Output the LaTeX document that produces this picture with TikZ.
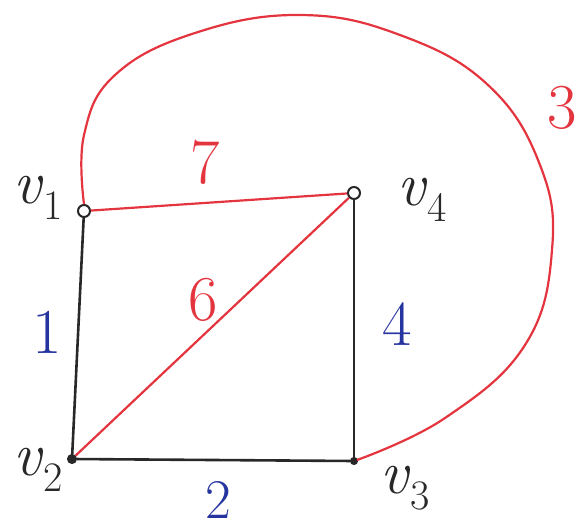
\documentclass[tikz,border=0pt]{standalone}
\usepackage{fontspec}
\usetikzlibrary{calc}
\definecolor{penred}{RGB}{228,52,62}
\definecolor{penblue}{RGB}{38,52,160}
\definecolor{penblack}{RGB}{40,40,40}
\newcommand{\vsub}[1]{\textit{v}\raisebox{-0.25em}{\fontsize{42}{42}\selectfont #1}}
\begin{document}
\begin{tikzpicture}[x=1pt,y=-1pt,
  vert/.style={circle,draw=penblack,line width=2pt,minimum size=12pt,inner sep=0pt},
  blk/.style={draw=penblack,line width=2.6pt},
  rd/.style={draw=penred,line width=2.2pt},
  vlab/.style={text=penblack,font=\fontsize{62}{62}\selectfont},
  wr/.style={text=penred,font=\fontsize{64}{64}\selectfont},
  wb/.style={text=penblue,font=\fontsize{64}{64}\selectfont}]
\useasboundingbox (0,0) rectangle (582,528);
\node[vert] (v1) at (84,211) {};
\node[vert] (v4) at (354,193) {};
\node[vert,fill=penblack,minimum size=8pt] (v2) at (72,459) {};
\node[vert,minimum size=6pt,fill=penblack] (v3) at (354,461) {};
\node[vlab] (l1) at (38,198) {\vsub{1}};
\node[vlab] (l4) at (422,200) {\vsub{4}};
\node[vlab] (l2) at (38,470) {\vsub{2}};
\node[vlab] (l3) at (405,488) {\vsub{3}};
\draw[blk] (v1) -- (v2);
\draw[blk] (v2) -- (v3);
\draw[blk] (v4) -- (v3);
\draw[rd] (v1) -- (v4);
\draw[rd] (v2) -- (v4);
\draw[rd] plot[smooth,tension=0.7] coordinates {(v1.north) (84,135) (115,75) (195,33)
  (300,15) (400,35) (488,85) (540,165) (552,250) (525,345) (445,418) (357,460)};
\node[wr] (e7) at (205,162) {7};
\node[wr] (e6) at (203,300) {6};
\node[wr] (e3) at (562,108) {3};
\node[wb] (e1) at (47,332) {1};
\node[wb] (e4) at (397,324) {4};
\node[wb,font=\fontsize{56}{56}\selectfont] (e2) at (218,500) {2};
\end{tikzpicture}
\end{document}
